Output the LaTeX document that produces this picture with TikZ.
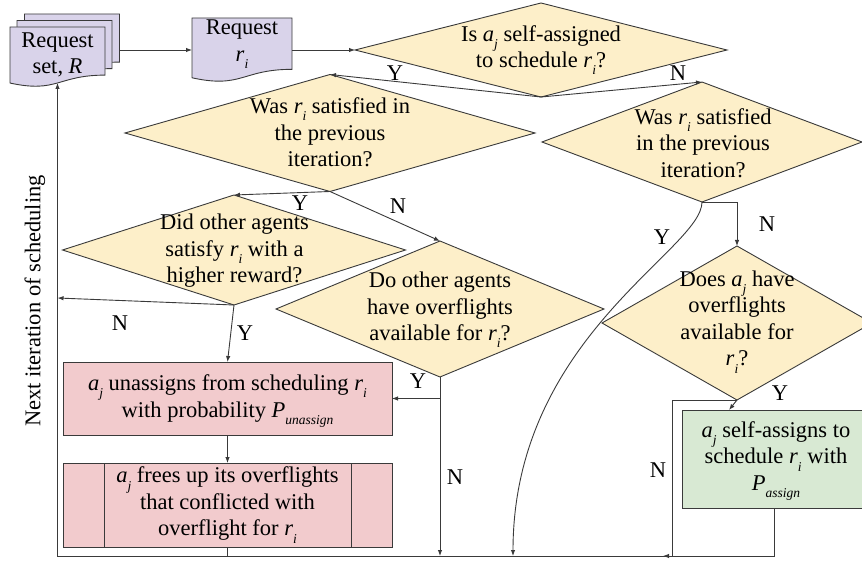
\documentclass[tikz,border=0pt]{standalone}
\usepackage{fontspec}
\setmainfont{Liberation Serif}
\usetikzlibrary{shapes.geometric,arrows.meta,calc}
\definecolor{docfill}{HTML}{D9D3EA}
\definecolor{decfill}{HTML}{FDEFC9}
\definecolor{actfill}{HTML}{F2CBCD}
\definecolor{okfill}{HTML}{D8E9D3}
\definecolor{edge}{HTML}{3A3A3A}
% italic symbol with a low italic subscript
\newcommand\ital[2]{\textit{#1}\raisebox{-0.32em}{\fontsize{13.5}{13.5}\selectfont\textit{#2}}}
% document shape (wavy bottom) drawn over the frame of a named node
\newcommand\docshape[1]{%
  \filldraw[shapeline, fill=docfill] (#1.north west) -- (#1.north east)
   -- ($(#1.north east)!0.802!(#1.south east)$)
   .. controls ($(#1.north)!0.802!(#1.south)$) and ($(#1.north)!1.107!(#1.south)$)
   .. ($(#1.north west)!0.934!(#1.south west)$) -- cycle;}
\begin{document}
\begin{tikzpicture}[x=1pt,y=-1pt,
  font=\rmfamily\fontsize{22.5}{26.5}\selectfont,
  shapeline/.style={draw=edge, line width=0.9pt},
  dec/.style={shapeline, diamond, fill=decfill, inner sep=0pt, outer sep=0pt},
  act/.style={shapeline, rectangle, fill=actfill, inner sep=0pt, outer sep=0pt},
  okbox/.style={shapeline, rectangle, fill=okfill, inner sep=0pt, outer sep=0pt},
  frame/.style={rectangle, inner sep=0pt, outer sep=0pt, draw=none},
  txt/.style={align=center, inner sep=0pt, text=black},
  conn/.style={draw=edge, line width=0.9pt},
  arr/.style={conn, -{Latex[length=6pt,width=4.5pt]}},
  yn/.style={inner sep=0pt, text=black}]
\useasboundingbox (0,0) rectangle (862,561);

% ---- request documents
\node[frame, minimum width=95pt, minimum height=60pt] (rs3) at (72,44) {};
\node[frame, minimum width=95pt, minimum height=60pt] (rs2) at (64.5,50.5) {};
\node[frame, minimum width=95pt, minimum height=60pt] (rs1) at (57.5,57) {};
\docshape{rs3}\docshape{rs2}\docshape{rs1}
\node[txt] (rs1t) at (57.5,55) {Request\\set, \textit{R}};
\node[frame, minimum width=100pt, minimum height=64pt] (rq) at (242,50) {};
\docshape{rq}
\node[txt] (rqt) at (242,44) {Request\\\ital{r}{i}};

% ---- decisions
\node[dec, minimum width=372pt, minimum height=94pt] (d1) at (541,50) {};
\node[txt] (d1t) at (541,50) {Is \ital{a}{j} self-assigned\\to schedule \ital{r}{i}?};
\node[dec, minimum width=410pt, minimum height=117pt] (d2) at (330,133) {};
\node[txt] (d2t) at (330,132.5) {Was \ital{r}{i} satisfied in\\the previous\\iteration?};
\node[dec, minimum width=320pt, minimum height=120pt] (d3) at (702,142) {};
\node[txt] (d3t) at (703,143) {Was \ital{r}{i} satisfied\\in the previous\\iteration?};
\node[dec, minimum width=343pt, minimum height=110pt] (d4) at (234,250) {};
\node[txt] (d4t) at (234.5,251) {Did other agents\\satisfy \ital{r}{i} with a\\higher reward?};
\node[dec, minimum width=328pt, minimum height=136pt] (d6) at (440,309) {};
\node[txt] (d6t) at (440,310) {Do other agents\\have overflights\\available for \ital{r}{i}?};
\node[dec, minimum width=270pt, minimum height=154pt] (d5) at (737,323) {};
\node[txt] (d5t) at (737,322) {Does \ital{a}{j} have\\overflights\\available for\\\ital{r}{i}?};

% ---- actions
\node[act, minimum width=329pt, minimum height=73pt] (p1) at (227.5,398.5) {};
\node[txt] (p1t) at (227.5,401) {\ital{a}{j} unassigns from scheduling \ital{r}{i}\\with probability \ital{P}{unassign}};
\node[act, minimum width=329pt, minimum height=84pt] (p2) at (227.5,505) {};
\draw[shapeline] ($(p2.north west)+(41,0)$) -- ($(p2.south west)+(41,0)$)
                 ($(p2.north east)+(-41,0)$) -- ($(p2.south east)+(-41,0)$);
\node[txt] (p2t) at (227.5,505) {\ital{a}{j} frees up its overflights\\that conflicted with\\overflight for \ital{r}{i}};
\node[okbox, minimum width=184pt, minimum height=98pt] (g) at (774,459) {};
\node[txt] (gt) at (776,461) {\ital{a}{j} self-assigns to\\schedule \ital{r}{i} with\\\ital{P}{assign}};

% ---- loose ends of the return path
\coordinate (rsin) at (57.5,83);
\coordinate (cBL) at (57.5,556);
\coordinate (lN) at (57.5,298);
\coordinate (cY) at (513,556);
\coordinate (bN) at (440,556);
\coordinate (jR) at (672,556);
\coordinate (jL) at (663,556);
\coordinate (p2b) at (p2.south |- cBL);

% ---- connectors
\draw[arr] (rs3.east |- rq.west) -- (rq.west);
\draw[arr] (rq.east) -- (d1.west);
\draw[arr] (d1.south) -- (d2.north);
\draw[arr] (d1.south) -- (d3.north);
\draw[arr] (d2.south) -- (d4.north);
\draw[arr] (d2.south) -- (d6.north);
\draw[arr] (d3.south) -| (d5.north);
\draw[arr] (d3.south) .. controls (702,250) and (513,337) .. (cY);
\draw[arr] (d4.south) -- (lN);
\draw[arr] (d4.south) -- (p1.north);
\draw[arr] (d6.south) |- (p1.east);
\draw[arr] (d6.south) -- (bN);
\draw[arr] (p1.south) -- (p2.north);
\draw[conn] (p2.south) -- (p2b);
\draw[arr] (d5.south) -- ($(g.north west)!0.5!(g.north)+(1,0)$);
\draw[conn] (d5.south) -| (jR);
\draw[conn] (g.south) |- (jR);
\draw[arr] (jR) -- (jL);
\draw[arr] (jR) -- (cBL) -- (rsin);

% ---- branch labels
\node[yn] (y1) at (395,73) {Y};
\node[yn] (n1) at (678,73) {N};
\node[yn] (y2) at (300,203) {Y};
\node[yn] (n2) at (398,206) {N};
\node[yn] (n3) at (767,224) {N};
\node[yn] (y3) at (662,237) {Y};
\node[yn] (n4) at (120,323) {N};
\node[yn] (y4) at (245,333) {Y};
\node[yn] (y5) at (418,381) {Y};
\node[yn] (n5) at (455,477) {N};
\node[yn] (y6) at (780,393) {Y};
\node[yn] (n6) at (658,470) {N};

\node[txt, rotate=90] (loop) at (35,301) {Next iteration of scheduling};
\end{tikzpicture}
\end{document}
